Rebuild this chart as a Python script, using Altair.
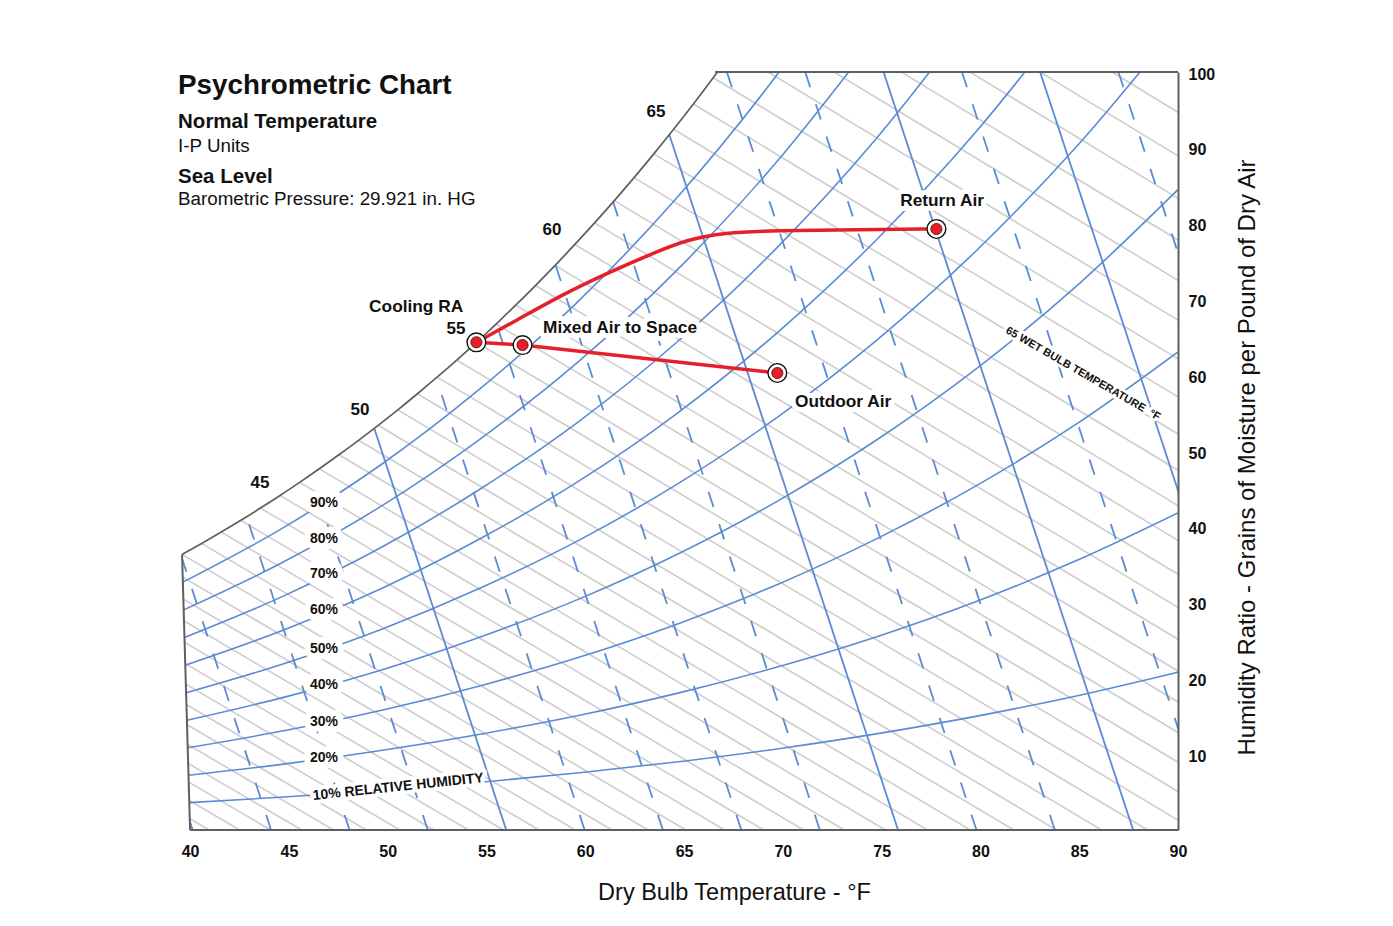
import altair as alt
import pandas as pd

FONT = "Liberation Sans"
BLUE = "#5b8bd2"
GRAY = "#cdcdcd"
EDGE = "#5f5f5f"
RED = "#e5202a"
INK = "#111111"

# ---------------- data (temperatures in F, humidity ratio in grains / lb dry air) ----------------
# wet-bulb lines: wet-bulb temp, humidity ratio at saturation, dry bulb where the line meets W = 0
WB_TEMP = list(range(27, 74))
WB_SAT_GR = [21.75, 22.60, 23.50, 24.42, 25.37, 26.42, 27.51, 28.65, 29.82, 31.04,
             32.30, 33.60, 34.95, 36.36, 37.81, 39.31, 40.86, 42.47, 44.14, 45.86,
             47.65, 49.50, 51.41, 53.39, 55.43, 57.55, 59.74, 62.00, 64.34, 66.75,
             69.25, 71.83, 74.49, 77.25, 80.09, 83.03, 86.07, 89.20, 92.44, 95.78,
             99.24, 102.80, 106.48, 110.28, 114.20, 118.24, 122.42]
WB_ZERO_T = [40.96, 42.51, 44.08, 45.65, 47.26, 48.92, 50.62, 52.34, 54.09, 55.86,
             57.66, 59.49, 61.35, 63.18, 65.09, 67.05, 69.03, 71.05, 73.10, 75.19,
             77.32, 79.49, 81.69, 83.85, 86.13, 88.46, 90.84, 93.26, 95.73, 98.24,
             100.81, 103.42, 106.09, 108.72, 111.50, 114.33, 117.22, 120.17, 123.19, 126.27,
             129.42, 132.63, 135.91, 139.19, 142.62, 146.12, 149.71]

# relative humidity curves
RH_TEMP = [40, 45, 50, 55, 60, 65, 70, 75, 80, 85, 90]
RH_10 = [3.61, 4.38, 5.28, 6.36, 7.61, 9.08, 10.79, 12.78, 15.09, 17.75, 20.81]
RH_20 = [7.22, 8.76, 10.58, 12.74, 15.24, 18.19, 21.64, 25.64, 30.28, 35.64, 41.82]
RH_30 = [10.85, 13.15, 15.89, 19.14, 22.91, 27.35, 32.53, 38.57, 45.57, 53.67, 63.03]
RH_40 = [14.47, 17.56, 21.21, 25.56, 30.59, 36.54, 43.49, 51.58, 60.97, 71.86, 84.44]
RH_50 = [18.11, 21.97, 26.55, 31.99, 38.31, 45.77, 54.49, 64.66, 76.49, 90.20, 106.07]
RH_60 = [21.75, 26.39, 31.89, 38.45, 46.05, 55.04, 65.56, 77.83, 92.11, 108.69]
RH_70 = [25.39, 30.82, 37.26, 44.92, 53.82, 64.35, 76.67, 91.07, 107.84]
RH_80 = [29.04, 35.25, 42.63, 51.41, 61.62, 73.69, 87.85, 104.39]
RH_90 = [32.70, 39.70, 48.02, 57.92, 69.45, 83.08, 99.08, 117.79]

# specific volume lines (cu.ft/lb): dry bulb at W = 0 and at W = 100 grains
VOL = [12.6, 12.7, 12.8, 12.9, 13.0, 13.1, 13.2, 13.3, 13.4, 13.5, 13.6, 13.7, 13.8, 13.9, 14.0, 14.1]
VOL_T_AT_0 = [40.13, 44.10, 48.07, 52.03, 56.00, 59.97, 63.93, 67.90, 71.87, 75.83,
              79.80, 83.77, 87.73, 91.70, 95.67, 99.63]
VOL_T_AT_100 = [28.91, 32.79, 36.66, 40.54, 44.42, 48.30, 52.17, 56.05, 59.93, 63.81,
                67.68, 71.56, 75.44, 79.32, 83.19, 87.07]
VOL_SOLID = [13.0, 13.5, 13.8, 14.0]

# chart outline
SAT_TOP_T = 67.1          # saturation curve meets 100 grains
LEFT_T = [40, 40]
LEFT_W = [0, 36.36]

# process points
PT_NAME = ["Cooling RA", "Mixed Air", "Outdoor Air", "Return Air"]
PT_T = [55.0, 57.3, 70.0, 78.0]
PT_W = [64.34, 63.98, 60.29, 79.29]
MIX_PATH_T = [55.0, 57.3, 70.0]
MIX_PATH_W = [64.34, 63.98, 60.29]
RET_PATH_T = [55.0, 57.0, 59.3, 61.7, 63.8, 65.6, 67.4, 70.0, 74.0, 78.0]
RET_PATH_W = [64.34, 67.2, 70.6, 73.6, 76.0, 77.9, 78.8, 79.1, 79.2, 79.29]

# annotation text (positions in plotted chart units)
TITLE_TEXT = ["Psychrometric Chart", "Normal Temperature", "I-P Units", "Sea Level",
              "Barometric Pressure: 29.921 in. HG"]
TITLE_W = [98.2, 93.35, 90.3, 86.1, 83.2]
TITLE_SIZE = [27.8, 20.5, 18.8, 20.5, 18.8]
TITLE_BOLD = [True, True, False, True, False]
TITLE_X = 39.39
SAT_LABELS = ["45", "50", "55", "60", "65"]
SAT_LABEL_X = [43.54, 48.60, 53.46, 58.32, 63.58]
SAT_LABEL_W = [45.78, 55.41, 66.09, 79.16, 94.72]
RH_LABELS = ["90%", "80%", "70%", "60%", "50%", "40%", "30%", "20%"]
RH_LABEL_X = 46.78
RH_LABEL_W = [43.14, 38.39, 33.77, 29.02, 23.88, 19.13, 14.25, 9.50]
PT_LABELS = ["Cooling RA", "Mixed Air to Space", "Return Air", "Outdoor Air"]
PT_LABEL_X = [51.44, 61.76, 78.06, 73.05]
PT_LABEL_W = [69.0, 66.23, 82.98, 56.46]

# dry-bulb lines of this chart lean slightly: plotted x = T - k*(Tv - T)*W
SKEW_K = 0.00022
SKEW_TV = 91


def skew(t, w):
    return f"datum.{t} - {SKEW_K} * ({SKEW_TV} - datum.{t}) * datum.{w}"


xscale = alt.Scale(domain=[39.59, 90], nice=False, zero=False)
yscale = alt.Scale(domain=[0, 100], nice=False, zero=False)

XTITLE = "Dry Bulb Temperature - °F"
YTITLE = "Humidity Ratio - Grains of Moisture per Pound of Dry Air"

xaxis = alt.Axis(values=list(range(40, 91, 5)), format="d",
                 title=XTITLE, titleFont=FONT, titleFontSize=23.5,
                 titleFontWeight="normal", titleColor=INK, titleX=552, titleY=62,
                 titleAlign="center", titleBaseline="middle",
                 labelFont=FONT, labelFontSize=16, labelFontWeight="bold", labelColor=INK,
                 labelPadding=13, labelFlush=False, ticks=False, domain=False, grid=False)
yaxis = alt.Axis(orient="right", values=list(range(10, 101, 10)), format="d",
                 title=YTITLE,
                 titleFont=FONT, titleFontSize=24, titleFontWeight="normal", titleColor=INK,
                 titleAngle=270, titleX=69, titleY=385, titleAlign="center", titleBaseline="middle",
                 labelFont=FONT, labelFontSize=16, labelFontWeight="bold", labelColor=INK,
                 labelPadding=10, labelOffset=2, labelFlush=False, ticks=False,
                 domain=True, domainColor=EDGE, domainWidth=2, grid=False, zindex=1)


def X(f):
    return alt.X(f, type="quantitative", scale=xscale, axis=xaxis, title=XTITLE)


def Y(f):
    return alt.Y(f, type="quantitative", scale=yscale, axis=yaxis, title=YTITLE)


# ---------------- tables ----------------
wb_df = pd.DataFrame({"Twb": WB_TEMP, "Ws": WB_SAT_GR, "T0": WB_ZERO_T})
wb_df["W0"] = 0.0

sat_df = pd.DataFrame({"T": WB_TEMP, "W": WB_SAT_GR})
sat_df = sat_df[(sat_df["T"] >= 40) & (sat_df["T"] <= 68)]

rh_rows = []
for rh, vals in [(10, RH_10), (20, RH_20), (30, RH_30), (40, RH_40), (50, RH_50),
                 (60, RH_60), (70, RH_70), (80, RH_80), (90, RH_90)]:
    for t, w in zip(RH_TEMP, vals):
        rh_rows.append({"rh": rh, "T": t, "W": w})
rh_df = pd.DataFrame(rh_rows)

vol_df = pd.DataFrame({"v": VOL, "T0": VOL_T_AT_0, "Ttop": VOL_T_AT_100})
vol_df["Wtop"] = 100.0
vol_df["W0"] = 0.0
vol_df["solid"] = vol_df["v"].isin(VOL_SOLID)

left_df = pd.DataFrame({"T": LEFT_T, "W": LEFT_W})
top_df = pd.DataFrame({"T": [SAT_TOP_T], "W": [100.0], "T2": [90.0]})
bottom_df = pd.DataFrame({"T": [40.0], "W": [0.0], "T2": [90.0]})

pts_df = pd.DataFrame({"name": PT_NAME, "T": PT_T, "W": PT_W})
mix_df = pd.DataFrame({"T": MIX_PATH_T, "W": MIX_PATH_W, "o": range(len(MIX_PATH_T))})
ret_df = pd.DataFrame({"T": RET_PATH_T, "W": RET_PATH_W, "o": range(len(RET_PATH_T))})

# ---------------- layers ----------------
wb_lines = alt.Chart(wb_df).transform_calculate(xs=skew("Twb", "Ws")).mark_rule(
    color=GRAY, strokeWidth=1.6, clip=True
).encode(x=X("xs"), y=Y("Ws"), x2="T0:Q", y2="W0:Q")

vol_base = alt.Chart(vol_df).transform_calculate(xt=skew("Ttop", "Wtop"))
vol_dashed = vol_base.transform_filter("!datum.solid").mark_rule(
    color=BLUE, strokeWidth=1.8, strokeDash=[16, 18], clip=True
).encode(x=X("xt"), y=Y("Wtop"), x2="T0:Q", y2="W0:Q")
vol_solid = vol_base.transform_filter("datum.solid").mark_rule(
    color=BLUE, strokeWidth=1.8, clip=True
).encode(x=X("xt"), y=Y("Wtop"), x2="T0:Q", y2="W0:Q")

rh_lines = alt.Chart(rh_df).transform_calculate(xp=skew("T", "W")).mark_line(
    color=BLUE, strokeWidth=1.6, interpolate="monotone", clip=True
).encode(x=X("xp"), y=Y("W"), detail="rh:N")

sat_calc = alt.Chart(sat_df).transform_calculate(xp=skew("T", "W"))
top_mask = sat_calc.mark_area(color="white", interpolate="monotone", clip=True).encode(
    x=X("xp"), y=Y("W"), y2=alt.datum(100))
left_calc = alt.Chart(left_df).transform_calculate(xp=skew("T", "W"))
left_mask = left_calc.mark_area(color="white", orient="horizontal", clip=True).encode(
    y=Y("W"), x=X("xp"), x2=alt.datum(39.0))

sat_line = sat_calc.mark_line(color=EDGE, strokeWidth=1.7, interpolate="monotone", clip=True).encode(
    x=X("xp"), y=Y("W"))
left_line = left_calc.mark_line(color=EDGE, strokeWidth=2).encode(x=X("xp"), y=Y("W"))
top_line = alt.Chart(top_df).transform_calculate(xp=skew("T", "W")).mark_rule(
    color=EDGE, strokeWidth=2).encode(x=X("xp"), x2="T2:Q", y=Y("W"))
bottom_line = alt.Chart(bottom_df).mark_rule(color=EDGE, strokeWidth=2).encode(
    x=X("T"), x2="T2:Q", y=Y("W"))


def text_layers(df, size, bold=True, angle=0, halo=0, align="center"):
    weight = "bold" if bold else "normal"
    base = alt.Chart(df).encode(x=X("xp"), y=Y("W"), text=alt.Text("label:N"))
    out = []
    if halo:
        out.append(base.mark_text(font=FONT, fontSize=size, fontWeight=weight, angle=angle,
                                  align=align, baseline="middle", color="white", stroke="white",
                                  strokeWidth=halo, strokeJoin="round"))
    out.append(base.mark_text(font=FONT, fontSize=size, fontWeight=weight, angle=angle,
                              align=align, baseline="middle", color=INK))
    return out


layers = [wb_lines, vol_dashed, vol_solid, rh_lines, top_mask, left_mask,
          sat_line, left_line, top_line, bottom_line]

# RH labels
rh_lab_df = pd.DataFrame({"label": RH_LABELS, "xp": RH_LABEL_X, "W": RH_LABEL_W})
layers += text_layers(rh_lab_df, 14, halo=12)
layers += text_layers(pd.DataFrame({"label": ["10% RELATIVE HUMIDITY"], "xp": [50.53], "W": [5.67]}),
                      14, angle=354, halo=8)
layers += text_layers(pd.DataFrame({"label": ["65 WET BULB TEMPERATURE \u00a0°F"], "xp": [85.19], "W": [60.16]}),
                      11, angle=30, halo=6)

# saturation temperature labels
layers += text_layers(pd.DataFrame({"label": SAT_LABELS, "xp": SAT_LABEL_X, "W": SAT_LABEL_W}), 17)

# process lines and points
mix_line = alt.Chart(mix_df).transform_calculate(xp=skew("T", "W")).mark_line(
    color=RED, strokeWidth=3.5).encode(x=X("xp"), y=Y("W"), order="o:Q")
ret_line = alt.Chart(ret_df).transform_calculate(xp=skew("T", "W")).mark_line(
    color=RED, strokeWidth=3.5, interpolate="basis").encode(x=X("xp"), y=Y("W"), order="o:Q")
pts_calc = alt.Chart(pts_df).transform_calculate(xp=skew("T", "W"))
pts_outer = pts_calc.mark_point(shape="circle", filled=True, fill="white", stroke=INK,
                                strokeWidth=1.4, size=350, opacity=1).encode(x=X("xp"), y=Y("W"))
pts_inner = pts_calc.mark_point(shape="circle", filled=True, fill=RED, stroke="#5a0000",
                                strokeWidth=0.8, size=125, opacity=1).encode(x=X("xp"), y=Y("W"))
layers += [mix_line, ret_line, pts_outer, pts_inner]

layers += text_layers(pd.DataFrame({"label": PT_LABELS, "xp": PT_LABEL_X, "W": PT_LABEL_W}), 17.3, halo=10)

# title block
tdf = pd.DataFrame({"label": TITLE_TEXT, "W": TITLE_W, "size": TITLE_SIZE, "bold": TITLE_BOLD})
tdf["xp"] = TITLE_X
for (_, r) in tdf.iterrows():
    layers += text_layers(pd.DataFrame([r]), r["size"], bold=bool(r["bold"]), align="left")

chart = alt.layer(*layers).properties(
    width=996, height=758,
    autosize=alt.AutoSizeParams(type="none"),
    padding={"left": 174, "top": 64, "right": 110, "bottom": 92},
    background="white",
).configure_view(stroke=None)

chart.save("out.html", embed_options={"renderer": "svg", "actions": False})
